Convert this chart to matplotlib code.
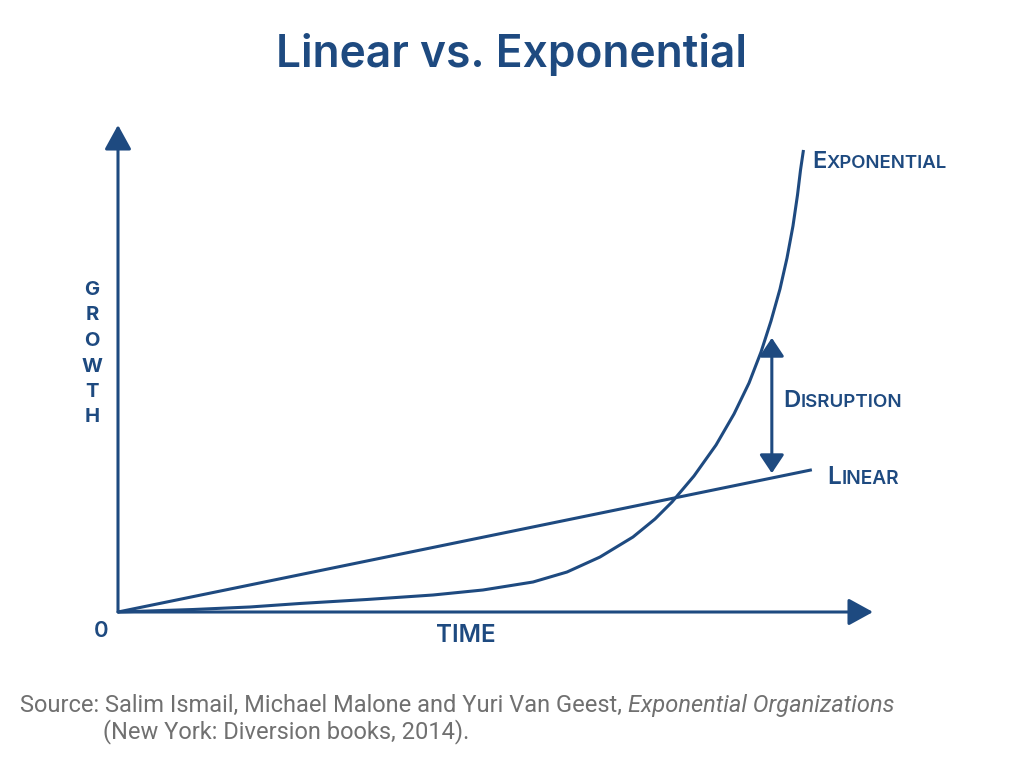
import matplotlib
matplotlib.use("Agg")
import matplotlib.pyplot as plt

# ---------------- data ----------------
exp_time = [0, 9.93, 17.48, 24.11, 32.98, 41.72, 48.34, 54.97, 59.47, 63.84,
            68.21, 71.13, 73.38, 76.29, 79.21, 81.59, 83.58, 85.17, 86.49,
            87.68, 88.61, 89.40, 90.0, 90.40, 90.79]
exp_growth = [0, 0.51, 1.03, 1.75, 2.57, 3.49, 4.52, 6.16, 8.21, 11.29,
              15.40, 19.10, 22.59, 27.93, 34.29, 40.66, 47.02, 53.39, 59.75,
              66.32, 72.69, 79.26, 85.63, 90.76, 94.87]
lin_time = [0, 91.9]
lin_growth = [0, 29.2]
axis_max_time = 100
axis_max_growth = 100
disruption_time = 86.6
disruption_range = [28.5, 56.3]

title = "Linear vs. Exponential"
y_label = "GROWTH"
x_label = "TIME"
origin_label = "0"
source_regular = "Source: Salim Ismail, Michael Malone and Yuri Van Geest, "
source_italic = "Exponential Organizations"
source_line2 = "(New York: Diversion books, 2014)."

# ---------------- style ----------------
W, H = 1024, 774
C = "#1e4a80"
GRAY = "#707070"
FONT = "Inter"
WEIGHT = "semibold"
LW = 2.2

fig = plt.figure(figsize=(W / 100, H / 100), dpi=100)
ax = fig.add_axes([0, 0, 1, 1])
px_per_t = 7.55
px_per_g = 4.87
ox, oy = 118, 612
ax.set_xlim(-ox / px_per_t, (W - ox) / px_per_t)
ax.set_ylim((oy - H) / px_per_g, oy / px_per_g)
ax.axis("off")

arrow_style = "-|>,head_length=0.6,head_width=0.33"
ax.annotate("", xy=(axis_max_time, 0), xytext=(0, 0),
            arrowprops=dict(arrowstyle=arrow_style, lw=LW, color=C,
                            shrinkA=0, shrinkB=0, mutation_scale=25))
ax.annotate("", xy=(0, axis_max_growth), xytext=(0, 0),
            arrowprops=dict(arrowstyle=arrow_style, lw=LW, color=C,
                            shrinkA=0, shrinkB=0, mutation_scale=25))
ax.plot(lin_time, lin_growth, color=C, lw=LW, solid_capstyle="butt")
ax.plot(exp_time, exp_growth, color=C, lw=LW, solid_joinstyle="round",
        solid_capstyle="butt")
ax.annotate("", xy=(disruption_time, disruption_range[1]),
            xytext=(disruption_time, disruption_range[0]),
            arrowprops=dict(arrowstyle="<|-|>,head_length=0.45,head_width=0.3",
                            lw=LW, color=C, shrinkA=0, shrinkB=0,
                            mutation_scale=25))

renderer = fig.canvas.get_renderer()


def fx(px):
    return px / W


def fy(py):
    return 1 - py / H


def width(t):
    return t.get_window_extent(renderer).width


def fit(t, target):
    t.set_fontsize(t.get_fontsize() * target / width(t))


tt = fig.text(fx(511), fy(55), title, ha="center", va="center", fontsize=30,
              color=C, family=FONT, weight=WEIGHT)
fit(tt, 470)


def smallcaps(x, base, word, total_w, big=16, small=12.5):
    for _ in range(3):
        t1 = fig.text(fx(x), fy(base), word[0].upper(), fontsize=big, color=C,
                      family=FONT, weight=WEIGHT, va="baseline", ha="left")
        bb = t1.get_window_extent(renderer)
        t2 = fig.text(bb.x1 / W + 0.5 / W, fy(base), word[1:].upper(),
                      fontsize=small, color=C, family=FONT, weight=WEIGHT,
                      va="baseline", ha="left")
        w = t2.get_window_extent(renderer).x1 - bb.x0
        if abs(w - total_w) < 1:
            break
        t1.remove()
        t2.remove()
        big *= total_w / w
        small *= total_w / w


smallcaps(812, 168, "Exponential", 135)
smallcaps(783, 407, "Disruption", 119)
smallcaps(827, 484, "Linear", 72)

for i, ch in enumerate(y_label):
    fig.text(fx(92), fy(290 + i * 25.5), ch, ha="center", va="center",
             fontsize=14.5, color=C, family=FONT, weight="bold")

fig.text(fx(101), fy(631), origin_label, ha="center", va="center",
         fontsize=16, color=C, family=FONT, weight=WEIGHT)
tm = fig.text(fx(466), fy(636), x_label, ha="center", va="center",
              fontsize=15, color=C, family=FONT, weight=WEIGHT)
fit(tm, 60)

SRC_FONT = "Roboto"
s1 = fig.text(fx(20), fy(712), source_regular, ha="left", va="baseline",
              fontsize=14, color=GRAY, family=SRC_FONT)
s2 = fig.text(fx(20), fy(712), source_italic, ha="left", va="baseline",
              fontsize=14, color=GRAY, family=SRC_FONT, style="italic")
total = width(s1) + width(s2)
scale = 877 / total
s1.set_fontsize(14 * scale)
s2.set_fontsize(14 * scale)
bb = s1.get_window_extent(renderer)
s2.set_x(bb.x1 / W)
fig.text(fx(103), fy(738), source_line2, ha="left", va="baseline",
         fontsize=14 * scale, color=GRAY, family=SRC_FONT)

fig.savefig("out.png", dpi=100, facecolor="white")
